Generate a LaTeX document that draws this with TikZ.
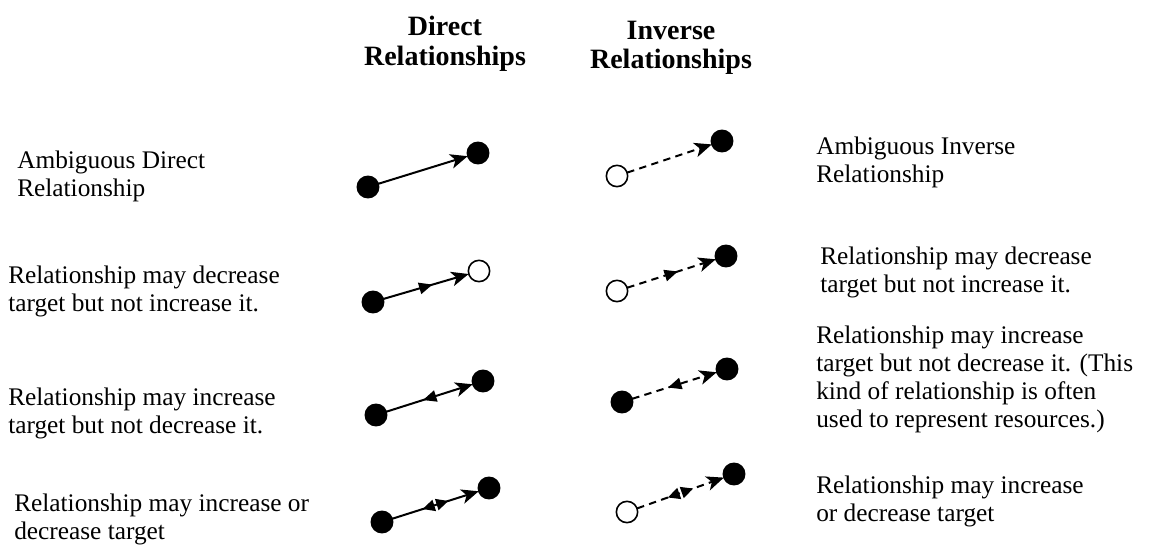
\documentclass[tikz,border=0pt]{standalone}
\usepackage{fontspec}
\setmainfont{Liberation Serif}
\usetikzlibrary{arrows.meta,decorations.markings}

\tikzset{
  dot/.style={circle,draw=black,line width=1.2pt,fill=black,minimum size=16pt,inner sep=0pt},
  hollow/.style={dot,fill=white},
  link/.style={line width=1.5pt,-{Stealth[length=13pt,width=11pt,inset=3.5pt]},shorten <=-0.5pt,shorten >=-0.5pt},
  invlink/.style={link,dash pattern=on 5.5pt off 4pt},
  fwdmid/.style={postaction={decorate},decoration={markings,
      mark=at position 0.5 with {\fill (5pt,0) -- (-5pt,4.5pt) -- (-5pt,-4.5pt) -- cycle;}}},
  backmid/.style={postaction={decorate},decoration={markings,
      mark=at position 0.5 with {\fill (-5pt,0) -- (5pt,4.5pt) -- (5pt,-4.5pt) -- cycle;}}},
  bothmid/.style={postaction={decorate},decoration={markings,
      mark=at position 0.5 with {\fill (-10pt,0) -- (-1pt,4.5pt) -- (-1pt,-4.5pt) -- cycle;
                                 \fill (10pt,0) -- (1pt,4.5pt) -- (1pt,-4.5pt) -- cycle;}}},
  label/.style={anchor=north west,inner sep=0pt,align=left,font=\fontsize{19}{20.8}\selectfont},
  head/.style={anchor=north,inner sep=0pt,align=center,font=\fontsize{21}{22}\selectfont\bfseries}
}

\begin{document}
\begin{tikzpicture}[x=0.75pt,y=-0.75pt]
  \fill[white] (0,0) rectangle (1156,548);
  \useasboundingbox (0,0) rectangle (1156,548);

  % column headings
  \node[head] (hdir) at (445,16) {Direct\\Relationships};
  \node[head] (hinv) at (671,21) {Inverse\\Relationships};

  % row 1: ambiguous
  \node[dot] (a1) at (368,187) {};
  \node[dot] (b1) at (478,153) {};
  \draw[link] (a1) -- (b1);
  \node[hollow] (c1) at (617,176) {};
  \node[dot] (d1) at (722,141) {};
  \draw[invlink] (c1) -- (d1);

  % row 2: may decrease, not increase
  \node[dot] (a2) at (373,302) {};
  \node[hollow] (b2) at (479,271) {};
  \draw[link,fwdmid] (a2) -- (b2);
  \node[hollow] (c2) at (617,291) {};
  \node[dot] (d2) at (726,256) {};
  \draw[invlink,fwdmid] (c2) -- (d2);

  % row 3: may increase, not decrease
  \node[dot] (a3) at (376,415) {};
  \node[dot] (b3) at (483,381) {};
  \draw[link,backmid] (a3) -- (b3);
  \node[dot] (c3) at (622,402) {};
  \node[dot] (d3) at (727,369) {};
  \draw[invlink,backmid] (c3) -- (d3);

  % row 4: may increase or decrease
  \node[dot] (a4) at (382,522) {};
  \node[dot] (b4) at (489,488) {};
  \draw[link,bothmid] (a4) -- (b4);
  \node[hollow] (c4) at (627,512) {};
  \node[dot] (d4) at (734,474) {};
  \draw[invlink,bothmid] (c4) -- (d4);

  % left descriptions
  \node[label] (l1) at (17,151) {Ambiguous Direct\\Relationship};
  \node[label] (l2) at (8,266) {Relationship may decrease\\target but not increase it.};
  \node[label] (l3) at (8,388) {Relationship may increase\\target but not decrease it.};
  \node[label] (l4) at (14,494) {Relationship may increase or\\decrease target};

  % right descriptions
  \node[label] (r1) at (816,137) {Ambiguous Inverse\\Relationship};
  \node[label] (r2) at (820,247) {Relationship may decrease\\target but not increase it.};
  \node[label] (r3) at (816,326) {Relationship may increase\\target but not decrease it. (This\\kind of relationship is often\\used to represent resources.)};
  \node[label] (r4) at (816,476) {Relationship may increase\\or decrease target};
\end{tikzpicture}
\end{document}
